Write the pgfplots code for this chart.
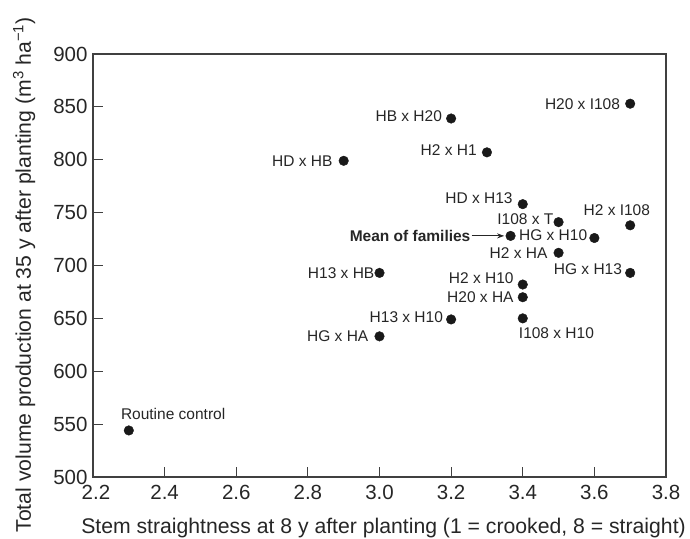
\documentclass[border=0pt]{standalone}
\usepackage{fontspec}
\setmainfont{Liberation Sans}
\usepackage{pgfplots}
\pgfplotsset{compat=1.18}
\usetikzlibrary{arrows.meta}

\begin{document}
\begin{tikzpicture}
\begin{axis}[
    name=ax,
    scale only axis,
    width=573pt, height=423pt,
    xmin=2.2, xmax=3.8,
    ymin=500, ymax=900,
    xtick={2.2,2.4,2.6,2.8,3.0,3.2,3.4,3.6,3.8},
    xticklabels={\hspace*{6pt}2.2,2.4,2.6,2.8,3.0,3.2,3.4,3.6,3.8},
    ytick={500,550,600,650,700,750,800,850,900},
    xtick pos=bottom, ytick pos=left,
    tick align=inside,
    major tick length=10pt,
    axis line style={black!75, line width=1.1pt},
    tick style={black!75, line width=1pt},
    /pgf/number format/assume math mode=true,
    tick label style={font=\fontsize{20.5}{22}\selectfont, text=black!85},
    x tick label style={yshift=-5pt},
    y tick label style={xshift=-2pt},
    label style={font=\fontsize{21.2}{23}\selectfont, text=black!85},
    xlabel={Stem straightness at 8 y after planting (1 = crooked, 8 = straight)},
    ylabel={Total volume production at 35 y after planting (m\textsuperscript{3} ha\textsuperscript{−1})},
    xlabel style={at={(axis description cs:0.507,-0.1325)}, anchor=base},
    ylabel style={at={(axis description cs:-0.1082,0.478)}, anchor=base},
    clip=false,
]
% x, y, label, label anchor, label shift (pt)
\addplot[only marks, mark=*, mark size=4.8pt, black!90,
    point meta=explicit symbolic,
    nodes near coords,
    visualization depends on={value \thisrow{anc} \as \lblanc},
    visualization depends on={\thisrow{sx} \as \lblsx},
    visualization depends on={\thisrow{sy} \as \lblsy},
    every node near coord/.append style={anchor=\lblanc, xshift=\lblsx pt, yshift=\lblsy pt,
        inner sep=0pt, font=\fontsize{15.5}{17}\selectfont, text=black!85},
] table[x=x, y=y, meta=lab, col sep=comma, row sep=\\] {
x,y,lab,anc,sx,sy\\
2.30,544,Routine control,west,-8,17\\
2.90,799,HD x HB,east,-11,0\\
3.00,693,H13 x HB,east,-5,0\\
3.00,633,HG x HA,east,-11,0\\
3.20,839,HB x H20,east,-9,2\\
3.20,649,H13 x H10,east,-8,2\\
3.30,807,H2 x H1,east,-10,2\\
3.40,758,HD x H13,east,-10,6\\
3.40,682,H2 x H10,east,-9,6\\
3.40,670,H20 x HA,east,-9,0\\
3.40,650,I108 x H10,west,-4,-15\\
3.50,741,I108 x T,east,-5,3\\
3.50,712,H2 x HA,east,-11,0\\
3.60,726,HG x H10,east,-7,3\\
3.70,853,H20 x I108,east,-10,0\\
3.70,738,H2 x I108,east,20,15\\
3.70,693,HG x H13,east,-8,4\\
3.366,728,\textbf{Mean of families},east,-40,0\\
};
\draw[-{Stealth[length=7pt,width=5pt]}, black!85, line width=0.8pt]
    (axis cs:3.257,728) -- (axis cs:3.348,728);
\end{axis}
\pgfresetboundingbox
\path[use as bounding box] ([xshift=-93pt,yshift=-62pt]ax.south west)
    rectangle ([xshift=24pt,yshift=54pt]ax.north east);
\end{tikzpicture}
\end{document}
